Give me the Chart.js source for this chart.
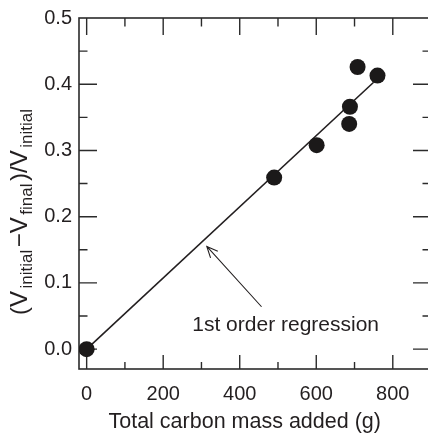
<!DOCTYPE html>
<html><head><meta charset="utf-8">
<script src="https://cdn.jsdelivr.net/npm/chart.js@4.4.1/dist/chart.umd.min.js"></script>
<style>html,body{margin:0;padding:0;background:#fff;overflow:hidden}</style>
</head><body>
<canvas id="c" width="428" height="435"></canvas>
<script>
// ---- data ----
const carbonMass = [0, 490, 601, 686, 688, 708, 760];
const volumeFraction = [0, 0.259, 0.308, 0.340, 0.366, 0.426, 0.413];
const regressionX = [0, 750];
const regressionY = [0, 0.403];
const xTickValues = [0, 200, 400, 600, 800];
const xMinorTickValues = [100, 300, 500, 700];
const yTickValues = [0, 0.1, 0.2, 0.3, 0.4, 0.5];
const yMinorTickValues = [0.05, 0.15, 0.25, 0.35, 0.45];
const xAxisTitle = 'Total carbon mass added (g)';
const yTitleParts = [['(V', false], ['initial', true], ['\u2212V', false], ['final', true], [')/V', false], ['initial', true]];
const annotationText = '1st order regression';
const arrowTail = [457, 0.064];
const arrowTip = [314, 0.155];
const annotationAnchor = [520, 0.036];
const xTitleCenterValue = 413;

const INK = '#231f20';
const FONT = '"Liberation Sans", Arial, Helvetica, sans-serif';

const zeroPad = s => { s.paddingLeft = 0; s.paddingRight = 0; s.paddingTop = 0; s.paddingBottom = 0; };

const decor = {
  id: 'decor',
  beforeDatasetsDraw(chart) {
    const {ctx, chartArea: a, scales: {x, y}} = chart;
    ctx.save();
    ctx.strokeStyle = '#2b2b2b';
    ctx.lineWidth = 1.6;
    ctx.strokeRect(a.left, a.top, a.right - a.left + 10, a.bottom - a.top);
    ctx.lineWidth = 1.4;
    ctx.beginPath();
    const xt = (vals, lb, lt) => vals.forEach(v => {
      const px = x.getPixelForValue(v);
      ctx.moveTo(px, a.bottom); ctx.lineTo(px, a.bottom - lb);
      ctx.moveTo(px, a.top); ctx.lineTo(px, a.top + lt);
    });
    const yt = (vals, ll, lr) => vals.forEach(v => {
      const py = y.getPixelForValue(v);
      ctx.moveTo(a.left, py); ctx.lineTo(a.left + ll, py);
      ctx.moveTo(a.right, py); ctx.lineTo(a.right - lr, py);
    });
    xt(xTickValues, 14, 17);
    xt(xMinorTickValues, 7, 8.5);
    yt(yTickValues.slice(0, -1), 18, 15);
    yt(yMinorTickValues, 8.5, 5.5);
    ctx.stroke();
    ctx.restore();
  },
  afterDatasetsDraw(chart) {
    const {ctx, scales: {x, y}} = chart;
    ctx.save();
    // arrow
    const tx = x.getPixelForValue(arrowTail[0]), ty = y.getPixelForValue(arrowTail[1]);
    const hx = x.getPixelForValue(arrowTip[0]), hy = y.getPixelForValue(arrowTip[1]);
    ctx.strokeStyle = INK; ctx.lineWidth = 1.1;
    ctx.beginPath(); ctx.moveTo(tx, ty); ctx.lineTo(hx, hy);
    const ang = Math.atan2(ty - hy, tx - hx);
    const L = 12, w = 0.42;
    ctx.moveTo(hx + L * Math.cos(ang + w), hy + L * Math.sin(ang + w));
    ctx.lineTo(hx, hy);
    ctx.lineTo(hx + L * Math.cos(ang - w), hy + L * Math.sin(ang - w));
    ctx.stroke();
    // annotation label
    ctx.fillStyle = INK;
    ctx.font = '21px ' + FONT;
    ctx.textAlign = 'center'; ctx.textBaseline = 'middle';
    ctx.fillText(annotationText, x.getPixelForValue(annotationAnchor[0]), y.getPixelForValue(annotationAnchor[1]));
    // x-axis title
    ctx.font = '21.5px ' + FONT;
    ctx.fillText(xAxisTitle, x.getPixelForValue(xTitleCenterValue), x.bottom - 13);
    // y-axis title with subscripts
    const mainF = '24px ' + FONT, subF = '17px ' + FONT, gap = 2.5;
    let total = 0;
    yTitleParts.forEach(([t, s]) => { ctx.font = s ? subF : mainF; total += ctx.measureText(t).width + gap; });
    total -= gap;
    const cy = (y.getPixelForValue(0.5) + y.getPixelForValue(-0.03)) / 2 + 18.5;
    ctx.translate(27, cy);
    ctx.rotate(-Math.PI / 2);
    ctx.textAlign = 'left'; ctx.textBaseline = 'alphabetic';
    let pos = -total / 2;
    yTitleParts.forEach(([t, s]) => {
      ctx.font = s ? subF : mainF;
      ctx.fillText(t, pos, s ? 5 : 0);
      pos += ctx.measureText(t).width + gap;
    });
    ctx.restore();
  }
};

new Chart(document.getElementById('c'), {
  type: 'scatter',
  data: {
    datasets: [
      {
        type: 'line',
        data: regressionX.map((v, i) => ({x: v, y: regressionY[i]})),
        borderColor: INK, borderWidth: 1.6, pointRadius: 0, fill: false, order: 2
      },
      {
        data: carbonMass.map((v, i) => ({x: v, y: volumeFraction[i]})),
        backgroundColor: '#1b1919', borderWidth: 0, pointRadius: 8, pointHoverRadius: 8, order: 1
      }
    ]
  },
  options: {
    responsive: false, animation: false, devicePixelRatio: 1,
    layout: {autoPadding: false, padding: {top: 18, right: 0, left: 0, bottom: 0}},
    plugins: {legend: {display: false}, tooltip: {enabled: false}},
    scales: {
      x: {
        type: 'linear', min: -20, max: 892,
        afterBuildTicks: s => { s.ticks = xTickValues.map(v => ({value: v})); },
        afterFit: s => { s.height = 66; zeroPad(s); },
        grid: {display: false, drawTicks: false}, border: {display: false},
        ticks: {color: INK, font: {family: FONT, size: 20}, padding: 13, maxRotation: 0, autoSkip: false},
        title: {display: false}
      },
      y: {
        type: 'linear', min: -0.03, max: 0.5,
        afterBuildTicks: s => { s.ticks = yTickValues.map(v => ({value: v})); },
        afterFit: s => { s.width = 79; zeroPad(s); },
        grid: {display: false, drawTicks: false}, border: {display: false},
        ticks: {color: INK, font: {family: FONT, size: 20}, padding: 7, autoSkip: false, callback: v => v.toFixed(1)}
      }
    }
  },
  plugins: [decor]
});
</script>
</body></html>
